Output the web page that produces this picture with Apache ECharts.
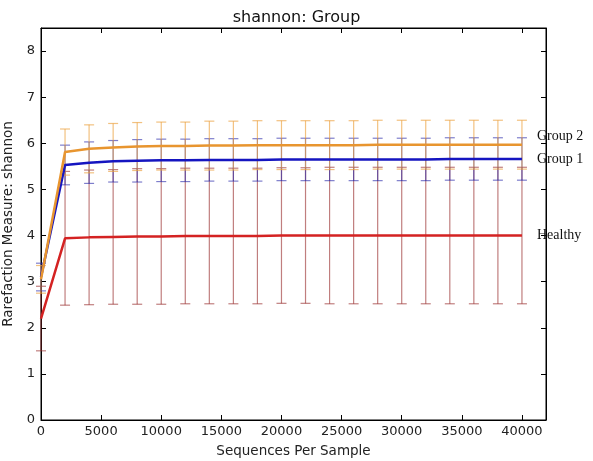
<!DOCTYPE html>
<html><head><meta charset="utf-8">
<script src="https://cdn.jsdelivr.net/npm/echarts@6/dist/echarts.min.js"></script>
<style>html,body{margin:0;padding:0;background:#fff}#c{width:593px;height:461px}</style>
</head><body><div id="c"></div>
<script>
var xs = [0,2000,4000,6000,8000,10000,12000,14000,16000,18000,20000,22000,24000,26000,28000,30000,32000,34000,36000,38000,40000];
var group2Mean = [3.05,5.81,5.88,5.91,5.93,5.94,5.94,5.95,5.95,5.96,5.96,5.96,5.96,5.96,5.97,5.97,5.97,5.97,5.97,5.97,5.97];
var group2Err  = [0.30,0.50,0.52,0.52,0.52,0.52,0.52,0.53,0.53,0.53,0.53,0.53,0.53,0.53,0.53,0.53,0.53,0.53,0.53,0.53,0.53];
var group1Mean = [3.10,5.53,5.58,5.61,5.62,5.63,5.63,5.64,5.64,5.64,5.65,5.65,5.65,5.65,5.65,5.65,5.65,5.66,5.66,5.66,5.66];
var group1Err  = [0.30,0.43,0.45,0.45,0.46,0.46,0.46,0.46,0.46,0.46,0.46,0.46,0.46,0.46,0.46,0.46,0.46,0.46,0.46,0.46,0.46];
var healthyMean = [2.20,3.94,3.96,3.97,3.98,3.98,3.99,3.99,3.99,3.99,4.00,4.00,4.00,4.00,4.00,4.00,4.00,4.00,4.00,4.00,4.00];
var healthyErr  = [0.70,1.45,1.46,1.46,1.47,1.47,1.47,1.47,1.47,1.47,1.47,1.47,1.48,1.48,1.48,1.48,1.48,1.48,1.48,1.48,1.48];
var seriesNames = ['Group 2','Group 1','Healthy'];
var xTicks = [0,5000,10000,15000,20000,25000,30000,35000,40000];
var yTicks = [0,1,2,3,4,5,6,7,8];

var lineColors = ['#e8952f','#1515c0','#d42222'];
var barColors = ['rgba(235,160,60,0.65)','rgba(40,40,170,0.6)','rgba(150,40,40,0.6)'];

function pairs(m){ return xs.map(function(x,i){return [x,m[i]];}); }
function errData(m,e){ return xs.map(function(x,i){return [x,m[i]-e[i],m[i]+e[i]];}); }
function errSeries(m,e,color){
  return {
    type:'custom', xAxisIndex:0, yAxisIndex:0, clip:false, silent:true, z:1,
    data: errData(m,e),
    renderItem:function(params,api){
      var lo = api.coord([api.value(0),api.value(1)]);
      var hi = api.coord([api.value(0),api.value(2)]);
      var w = 5;
      var st = {stroke:color,lineWidth:1.2,fill:null};
      return {type:'group',children:[
        {type:'line',shape:{x1:lo[0],y1:lo[1],x2:hi[0],y2:hi[1]},style:st},
        {type:'line',shape:{x1:lo[0]-w,y1:lo[1],x2:lo[0]+w,y2:lo[1]},style:st},
        {type:'line',shape:{x1:hi[0]-w,y1:hi[1],x2:hi[0]+w,y2:hi[1]},style:st}
      ]};
    }
  };
}
function lineSeries(name,m,color,offY){
  return {
    type:'line', name:name, data:pairs(m), showSymbol:false, symbol:'none', z:5,
    lineStyle:{color:color,width:2.5}, itemStyle:{color:color},
    endLabel:{show:true, formatter:name, distance:15, offset:[0,offY],
      fontFamily:'Liberation Serif', fontSize:14, color:'#111'}
  };
}
var chart = echarts.init(document.getElementById('c'),null,{renderer:'canvas'});
var axisFont = {fontFamily:'DejaVu Sans', fontSize:13, color:'#222'};
var tick = {show:true,inside:true,length:5,lineStyle:{color:'#000'}};
var line = {show:true,onZero:false,lineStyle:{color:'#000',width:1}};
chart.setOption({
  animation:false,
  backgroundColor:'#fff',
  title:{text:'shannon: Group', left:'center', top:5, textStyle:{fontFamily:'DejaVu Sans',fontSize:16,fontWeight:'normal',color:'#111'}},
  grid:{left:41,right:47,top:28,bottom:41,outerBoundsMode:'none',containLabel:false,show:true,borderColor:'#000',borderWidth:1,backgroundColor:'transparent'},
  xAxis:[
    {type:'value',min:0,max:42000,interval:5000,position:'bottom',
     name:'Sequences Per Sample',nameLocation:'middle',nameGap:24,nameMoveOverlap:false,
     nameTextStyle:{fontFamily:'DejaVu Sans',fontSize:13.5,color:'#222'},
     axisLine:line,
     axisTick:tick,
     axisLabel:Object.assign({margin:5,showMaxLabel:false,formatter:function(v){return xTicks.indexOf(v)>=0?String(v):'';}},axisFont),
     splitLine:{show:false}},
    {type:'value',min:0,max:42000,interval:5000,position:'top',
     axisLine:line,
     axisTick:tick,
     axisLabel:{show:false},splitLine:{show:false}}
  ],
  yAxis:[
    {type:'value',min:0,max:8.5,interval:1,position:'left',
     name:'Rarefaction Measure: shannon',nameLocation:'middle',nameGap:26,nameRotate:90,nameMoveOverlap:false,
     nameTextStyle:{fontFamily:'DejaVu Sans',fontSize:13.5,color:'#222'},
     axisLine:line,
     axisTick:tick,
     axisLabel:Object.assign({margin:6,showMaxLabel:false,formatter:function(v){return yTicks.indexOf(v)>=0?String(v):'';}},axisFont),
     splitLine:{show:false}},
    {type:'value',min:0,max:8.5,interval:1,position:'right',
     axisLine:line,
     axisTick:tick,
     axisLabel:{show:false},splitLine:{show:false}}
  ],
  series:[
    errSeries(healthyMean,healthyErr,barColors[2]),
    errSeries(group1Mean,group1Err,barColors[1]),
    errSeries(group2Mean,group2Err,barColors[0]),
    lineSeries(seriesNames[2],healthyMean,lineColors[2],0),
    lineSeries(seriesNames[1],group1Mean,lineColors[1],0),
    lineSeries(seriesNames[0],group2Mean,lineColors[0],-8)
  ]
});
</script></body></html>
